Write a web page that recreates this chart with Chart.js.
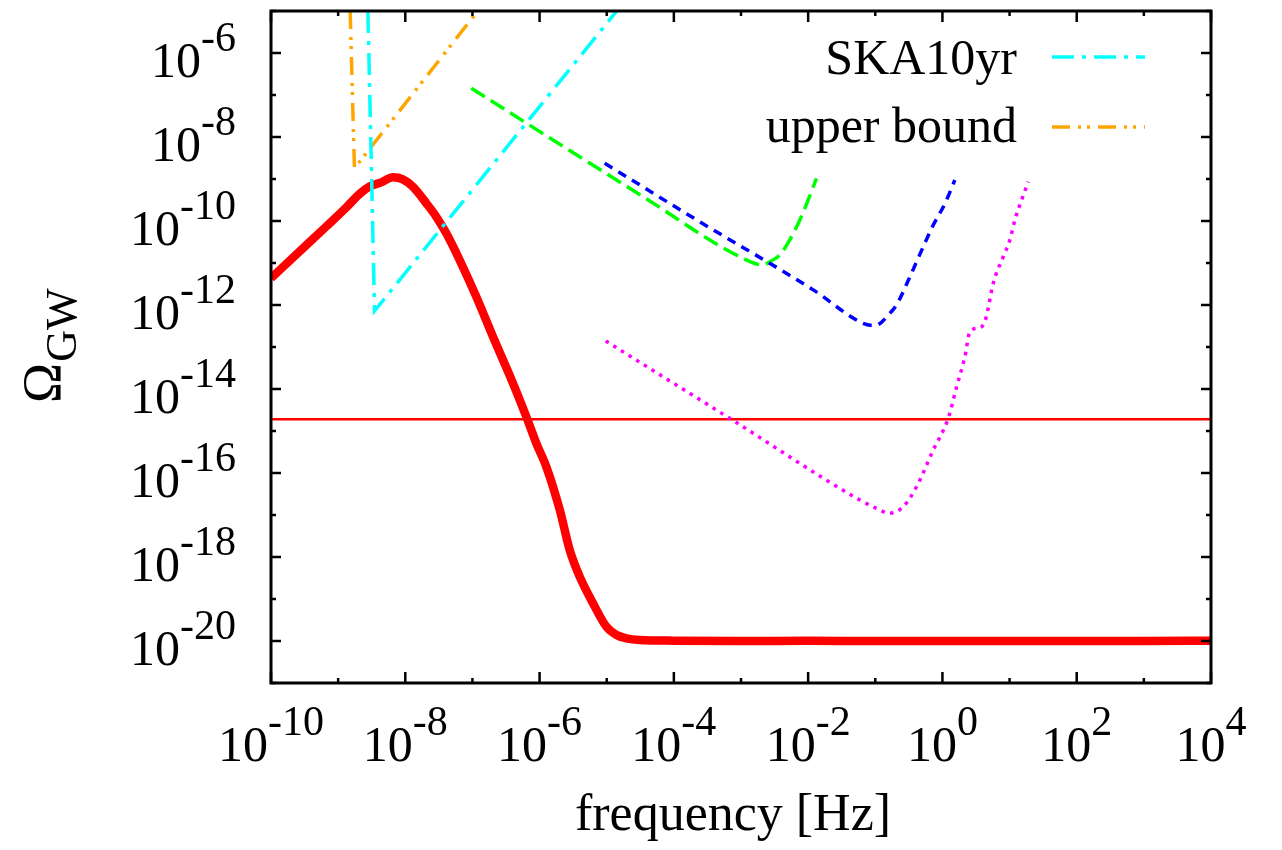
<!DOCTYPE html>
<html>
<head>
<meta charset="utf-8">
<title>Omega_GW vs frequency</title>
<script src="https://cdn.jsdelivr.net/npm/chart.js@4.4.0/dist/chart.umd.min.js"></script>
<style>
  html, body { margin: 0; padding: 0; background: #fff; }
  canvas { display: block; }
</style>
</head>
<body>
<canvas id="gwChart" width="1282" height="850"></canvas>
<script>
// values (frequency in Hz, Omega_GW)

// thick red curve
const signalFreq = [1.0e-10, 2.98e-10, 6.65e-10, 1.32e-9, 2.08e-9, 2.94e-9, 4.39e-9, 6.53e-9, 9.2e-9,
  1.30e-8, 2.06e-8, 2.90e-8, 4.08e-8, 6.44e-8, 1.14e-7, 2.02e-7, 4.02e-7, 6.35e-7, 8.95e-7,
  1.26e-6, 2.0e-6, 2.81e-6, 3.96e-6, 6.25e-6, 9.9e-6, 1.40e-5, 1.97e-5, 3.10e-5, 1.0e-4,
  1.0e-3, 1.0e-2, 1.0e-1, 1.0, 1.0e1, 1.0e2, 1.0e3, 1.0e4];
const signalOmega = [4.33e-12, 2.24e-11, 7.4e-11, 2.1e-10, 4.4e-10, 6.6e-10, 8.3e-10, 1.10e-9, 9.84e-10,
  6.56e-10, 2.64e-10, 1.26e-10, 5.09e-11, 1.18e-11, 1.58e-12, 1.76e-13, 1.37e-14, 2.19e-15, 5.09e-16,
  1.41e-16, 1.32e-17, 1.47e-18, 3.40e-19, 7.91e-20, 2.19e-20, 1.39e-20, 1.16e-20, 1.06e-20, 1.02e-20,
  1.0e-20, 1.01e-20, 1.0e-20, 1.0e-20, 1.0e-20, 1.0e-20, 1.0e-20, 1.02e-20];

// thin red horizontal line
const flatFreq = [1.0e-10, 1.0e4];
const flatOmega = [1.9e-15, 1.9e-15];

// SKA10yr (cyan, dash-dot)
const skaFreq = [2.77e-9, 3.18e-9, 3.48e-9, 1.41e-5];
const skaOmega = [1.0e-5, 6.0e-10, 7.2e-13, 1.0e-5];

// upper bound (orange, dash-dot-dot)
const boundFreq = [1.51e-9, 1.64e-9, 1.75e-9, 1.20e-7];
const boundOmega = [1.0e-5, 7.6e-8, 1.8e-9, 1.0e-5];

// green dashed
const greenFreq = [9.6e-8, 3.48e-5, 1.07e-3, 2.13e-3, 2.69e-3, 3.78e-3, 5.33e-3, 7.52e-3, 1.0e-2, 1.33e-2];
const greenOmega = [1.45e-7, 3.79e-10, 1.29e-11, 8.96e-12, 1.07e-11, 1.55e-11, 3.53e-11, 1.06e-10, 3.16e-10, 1.04e-9];

// blue short dashes
const blueFreq = [9.33e-6, 2.43e-4, 1.19e-2, 6.6e-2, 9.87e-2, 0.165, 0.207, 0.328, 0.518, 0.730, 1.09, 1.53];
const blueOmega = [2.37e-9, 9.6e-11, 2.29e-12, 3.66e-13, 3.21e-13, 6.34e-13, 1.0e-12, 4.72e-12, 2.44e-11, 8.0e-11, 2.6e-10, 9.46e-10];

// magenta dotted
const magentaFreq = [9.66e-6, 6.81e-4, 5.89e-2, 0.117, 0.156, 0.261, 0.412, 0.730, 1.22, 1.63,
  2.16, 2.57, 3.84, 4.45, 5.71, 8.05, 10.1, 12.0, 15.1, 19.0];
const magentaOmega = [1.39e-13, 2.0e-15, 2.28e-17, 1.32e-17, 1.10e-17, 1.58e-17, 4.72e-17, 3.53e-16, 2.0e-15, 1.14e-14,
  5.87e-14, 2.32e-13, 3.05e-13, 4.9e-13, 3.29e-12, 1.41e-11, 3.53e-11, 1.06e-10, 3.16e-10, 8.63e-10];

// axis ticks (powers of ten)
const xTickExp = [-10, -9, -8, -7, -6, -5, -4, -3, -2, -1, 0, 1, 2, 3, 4];
const xLabelExp = [-10, -8, -6, -4, -2, 0, 2, 4];
const yTickExp = [-21, -20, -19, -18, -17, -16, -15, -14, -13, -12, -11, -10, -9, -8, -7, -6, -5];
const yLabelExp = [-20, -18, -16, -14, -12, -10, -8, -6];

const SERIF = '"Liberation Serif", "Times New Roman", serif';

const toPoints = (xs, ys) => xs.map((v, i) => ({ x: v, y: ys[i] }));

// "10" with a raised exponent
function powerLabel(ctx, exp, x, y, align) {
  ctx.font = '50px ' + SERIF;
  const wb = ctx.measureText('10').width;
  ctx.font = '42px ' + SERIF;
  const ws = ctx.measureText(String(exp)).width;
  const start = align === 'right' ? x - wb - ws : x - (wb + ws) / 2;
  ctx.font = '50px ' + SERIF;
  ctx.fillText('10', start, y);
  ctx.font = '42px ' + SERIF;
  ctx.fillText(String(exp), start + wb, y - 26);
}

// gnuplot-like frame, inward ticks and labels
const axesFrame = {
  id: 'axesFrame',
  afterDatasetsDraw(chart) {
    const { ctx, chartArea: a, scales: { x, y } } = chart;
    ctx.save();
    ctx.strokeStyle = '#000';
    ctx.lineWidth = 2.5;
    ctx.beginPath();
    xTickExp.forEach(e => {
      const px = x.getPixelForValue(Math.pow(10, e));
      const len = xLabelExp.includes(e) ? 11 : 5;
      ctx.moveTo(px, a.bottom); ctx.lineTo(px, a.bottom - len);
      ctx.moveTo(px, a.top); ctx.lineTo(px, a.top + len);
    });
    yTickExp.forEach(e => {
      const py = y.getPixelForValue(Math.pow(10, e));
      const len = yLabelExp.includes(e) ? 10 : 5;
      ctx.moveTo(a.left, py); ctx.lineTo(a.left + len, py);
      ctx.moveTo(a.right, py); ctx.lineTo(a.right - len, py);
    });
    ctx.stroke();
    ctx.lineWidth = 3;
    ctx.strokeRect(a.left, a.top, a.right - a.left, a.bottom - a.top);

    ctx.fillStyle = '#000';
    ctx.textAlign = 'left';
    ctx.textBaseline = 'alphabetic';
    xLabelExp.forEach(e => {
      powerLabel(ctx, e, x.getPixelForValue(Math.pow(10, e)), 761, 'center');
    });
    yLabelExp.forEach(e => {
      powerLabel(ctx, e, 236, y.getPixelForValue(Math.pow(10, e)) + 24, 'right');
    });

    // axis titles
    ctx.font = '52px ' + SERIF;
    ctx.textAlign = 'center';
    ctx.fillText('frequency [Hz]', 733, 830);

    ctx.save();
    ctx.translate(60, 403);
    ctx.rotate(-Math.PI / 2);
    ctx.textAlign = 'left';
    ctx.font = '54px ' + SERIF;
    ctx.fillText('\u03A9', 0, 0);
    const wo = ctx.measureText('\u03A9').width;
    ctx.font = '44px ' + SERIF;
    ctx.fillText('GW', wo + 1, 16);
    ctx.restore();
    ctx.restore();
  }
};

// key in the top right corner: text right-aligned, sample line after it
const keyBox = {
  id: 'keyBox',
  afterDraw(chart) {
    const { ctx } = chart;
    const rows = chart.data.datasets.filter(d => d.inKey);
    ctx.save();
    rows.forEach((d, i) => {
      const ty = 74 + i * 68;
      const ly = 57 + i * 70;
      ctx.font = '50px ' + SERIF;
      ctx.fillStyle = '#000';
      ctx.textAlign = 'right';
      ctx.textBaseline = 'alphabetic';
      ctx.fillText(d.label, 1017, ty);
      ctx.strokeStyle = d.borderColor;
      ctx.lineWidth = d.borderWidth;
      ctx.setLineDash(d.borderDash || []);
      ctx.beginPath();
      ctx.moveTo(1052, ly);
      ctx.lineTo(1145, ly);
      ctx.stroke();
    });
    ctx.restore();
  }
};

new Chart(document.getElementById('gwChart'), {
  type: 'line',
  data: {
    datasets: [
      { label: 'SKA10yr', inKey: true, data: toPoints(skaFreq, skaOmega),
        borderColor: '#00ffff', borderWidth: 3.5, borderDash: [22, 8, 4, 8] },
      { label: 'upper bound', inKey: true, data: toPoints(boundFreq, boundOmega),
        borderColor: '#ffa500', borderWidth: 3.5, borderDash: [18, 8, 3, 6, 3, 8] },
      { label: 'magenta', data: toPoints(magentaFreq, magentaOmega),
        borderColor: '#ff00ff', borderWidth: 3.5, borderDash: [3.5, 5.5], cubicInterpolationMode: 'monotone' },
      { label: 'blue', data: toPoints(blueFreq, blueOmega),
        borderColor: '#0000ff', borderWidth: 3.5, borderDash: [9, 7], cubicInterpolationMode: 'monotone' },
      { label: 'green', data: toPoints(greenFreq, greenOmega),
        borderColor: '#00ff00', borderWidth: 3.5, borderDash: [16, 7], cubicInterpolationMode: 'monotone' },
      { label: 'flat', data: toPoints(flatFreq, flatOmega),
        borderColor: '#ff0000', borderWidth: 2.5 },
      { label: 'signal', data: toPoints(signalFreq, signalOmega),
        borderColor: '#ff0000', borderWidth: 8.5, borderJoinStyle: 'round', cubicInterpolationMode: 'monotone' }
    ]
  },
  options: {
    responsive: false,
    animation: false,
    layout: { padding: { left: 271, top: 11, right: 71, bottom: 167 } },
    elements: { point: { radius: 0, hoverRadius: 0 }, line: { fill: false, tension: 0 } },
    datasets: { line: { clip: 0 } },
    plugins: { legend: { display: false }, tooltip: { enabled: false } },
    scales: {
      x: { type: 'logarithmic', min: 1e-10, max: 1e4, display: false },
      y: { type: 'logarithmic', min: 1e-21, max: 1e-5, display: false }
    }
  },
  plugins: [axesFrame, keyBox]
});
</script>
</body>
</html>
